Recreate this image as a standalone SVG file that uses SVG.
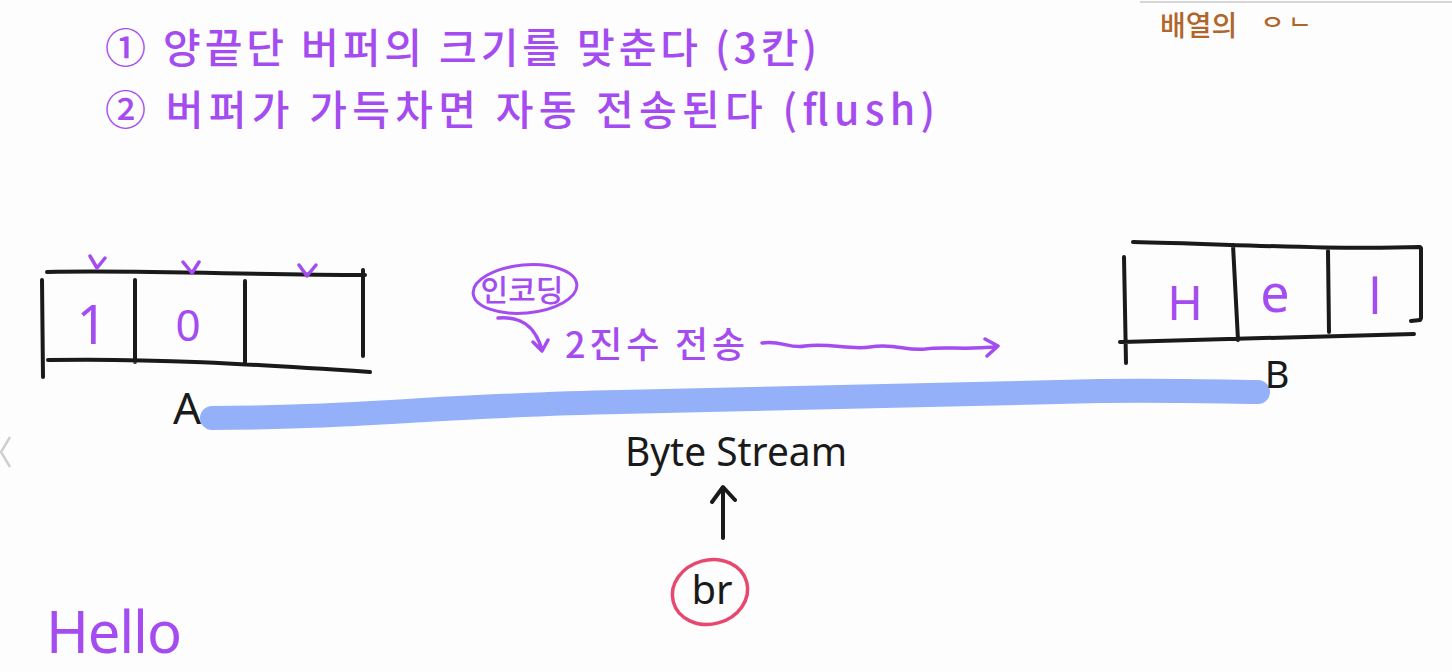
<svg xmlns="http://www.w3.org/2000/svg" width="1452" height="672" viewBox="0 0 1452 672">
<style>
.pur{fill:#a54cf0;font-family:"Noto Sans CJK KR","Noto Sans",sans-serif;font-weight:500;}
.cell{fill:#a54cf0;font-family:"Noto Sans",sans-serif;font-weight:400;}
.blk{fill:#1a1a1a;font-family:"Noto Sans","Liberation Sans",sans-serif;}
.ink{fill:none;stroke:#1a1a1a;stroke-width:4;stroke-linecap:round;stroke-linejoin:round;}
.pstroke{fill:none;stroke:#a54cf0;stroke-width:3.5;stroke-linecap:round;stroke-linejoin:round;}
</style>
<rect width="1452" height="672" fill="#fdfdfd"/>
<line x1="1140" y1="2" x2="1452" y2="2" stroke="#c8c8c8" stroke-width="1.5"/>
<path d="M10 437 L1 452 L10 467" fill="none" stroke="#cfcfcf" stroke-width="2.5"/>

<g id="notes">
  <text class="pur" x="105" y="63" font-size="41" textLength="712" lengthAdjust="spacing">① 양끝단 버퍼의 크기를 맞춘다 (3칸)</text>
  <text class="pur" x="105" y="125" font-size="41" textLength="830" lengthAdjust="spacing">② 버퍼가 가득차면 자동 전송된다 (flush)</text>
  <text x="1160" y="36" font-size="28" font-weight="500" fill="#b0652a" font-family="Noto Sans CJK KR,sans-serif">배열의 <tspan font-size="24" dx="18">ᄋ ᄂ</tspan></text>
</g>

<g id="connectors">
  <path d="M212 418 C350 418 450 405 620 402 C800 398 950 393 1100 391 C1180 390 1230 392 1258 392" fill="none" stroke="#93b0f8" stroke-width="24" stroke-linecap="round"/>
  <path class="pstroke" d="M498 318 C520 316 535 325 542 350 M533 342 L542 351 L548 340"/>
  <path class="pstroke" d="M762 343 C780 340 790 349 805 346 C830 343 850 350 870 347 C895 343 905 351 925 349 C945 346 960 350 995 347 M985 339 L998 346 L987 356"/>
  <path class="ink" d="M723 538 L723 488 M712 502 L723 487 L735 500" stroke-width="3.5"/>
</g>

<g id="bufferA">
  <path class="ink" d="M47 272 C150 270 250 275 365 275 M42 280 L43 377 M363 270 L363 356 M48 360 C150 358 250 364 370 372 M135 280 L135 362 M245 281 L245 362"/>
  <text class="cell" x="92" y="344" font-size="54" text-anchor="middle">1</text>
  <text class="cell" x="188" y="341" font-size="44" text-anchor="middle">0</text>
  <path class="pstroke" d="M90 256 L97 268 L105 258 M183 262 L192 273 L199 262 M299 265 L307 276 L316 265"/>
  <text class="blk" x="187" y="424" font-size="44" text-anchor="middle">A</text>
</g>

<g id="bufferB">
  <path class="ink" d="M1133 242 C1230 244 1330 250 1420 247 M1124 257 L1126 363 M1421 248 L1421 318 L1420 320 L1411 321 M1120 342 C1220 340 1320 336 1414 334 M1233 245 L1238 340 M1328 251 L1329 332"/>
  <text class="cell" x="1185" y="320" font-size="48" text-anchor="middle">H</text>
  <text class="cell" x="1275" y="312" font-size="52" text-anchor="middle">e</text>
  <text class="cell" x="1375" y="314" font-size="50" text-anchor="middle">l</text>
  <text class="blk" x="1277" y="388" font-size="38" text-anchor="middle">B</text>
</g>

<g id="encoding">
  <ellipse cx="525" cy="289" rx="52" ry="24" fill="none" stroke="#a54cf0" stroke-width="3" transform="rotate(-5 525 289)"/>
  <text class="pur" x="522" y="301" font-size="30" text-anchor="middle">인코딩</text>
</g>

<g id="binarySend">
  <text class="pur" x="565" y="358" font-size="36" textLength="180" lengthAdjust="spacing">2진수 전송</text>
</g>

<g id="byteStream">
  <text class="blk" x="736" y="466" font-size="40" text-anchor="middle" textLength="222" lengthAdjust="spacingAndGlyphs">Byte Stream</text>
</g>

<g id="br">
  <ellipse cx="710" cy="592" rx="38" ry="32" fill="none" stroke="#e8486f" stroke-width="3.5" transform="rotate(-15 710 592)"/>
  <text class="blk" x="712" y="604" font-size="40" text-anchor="middle">br</text>
</g>

<g id="hello">
  <text class="cell" x="46" y="653" font-size="58" textLength="136" lengthAdjust="spacing">Hello</text>
</g>
</svg>
